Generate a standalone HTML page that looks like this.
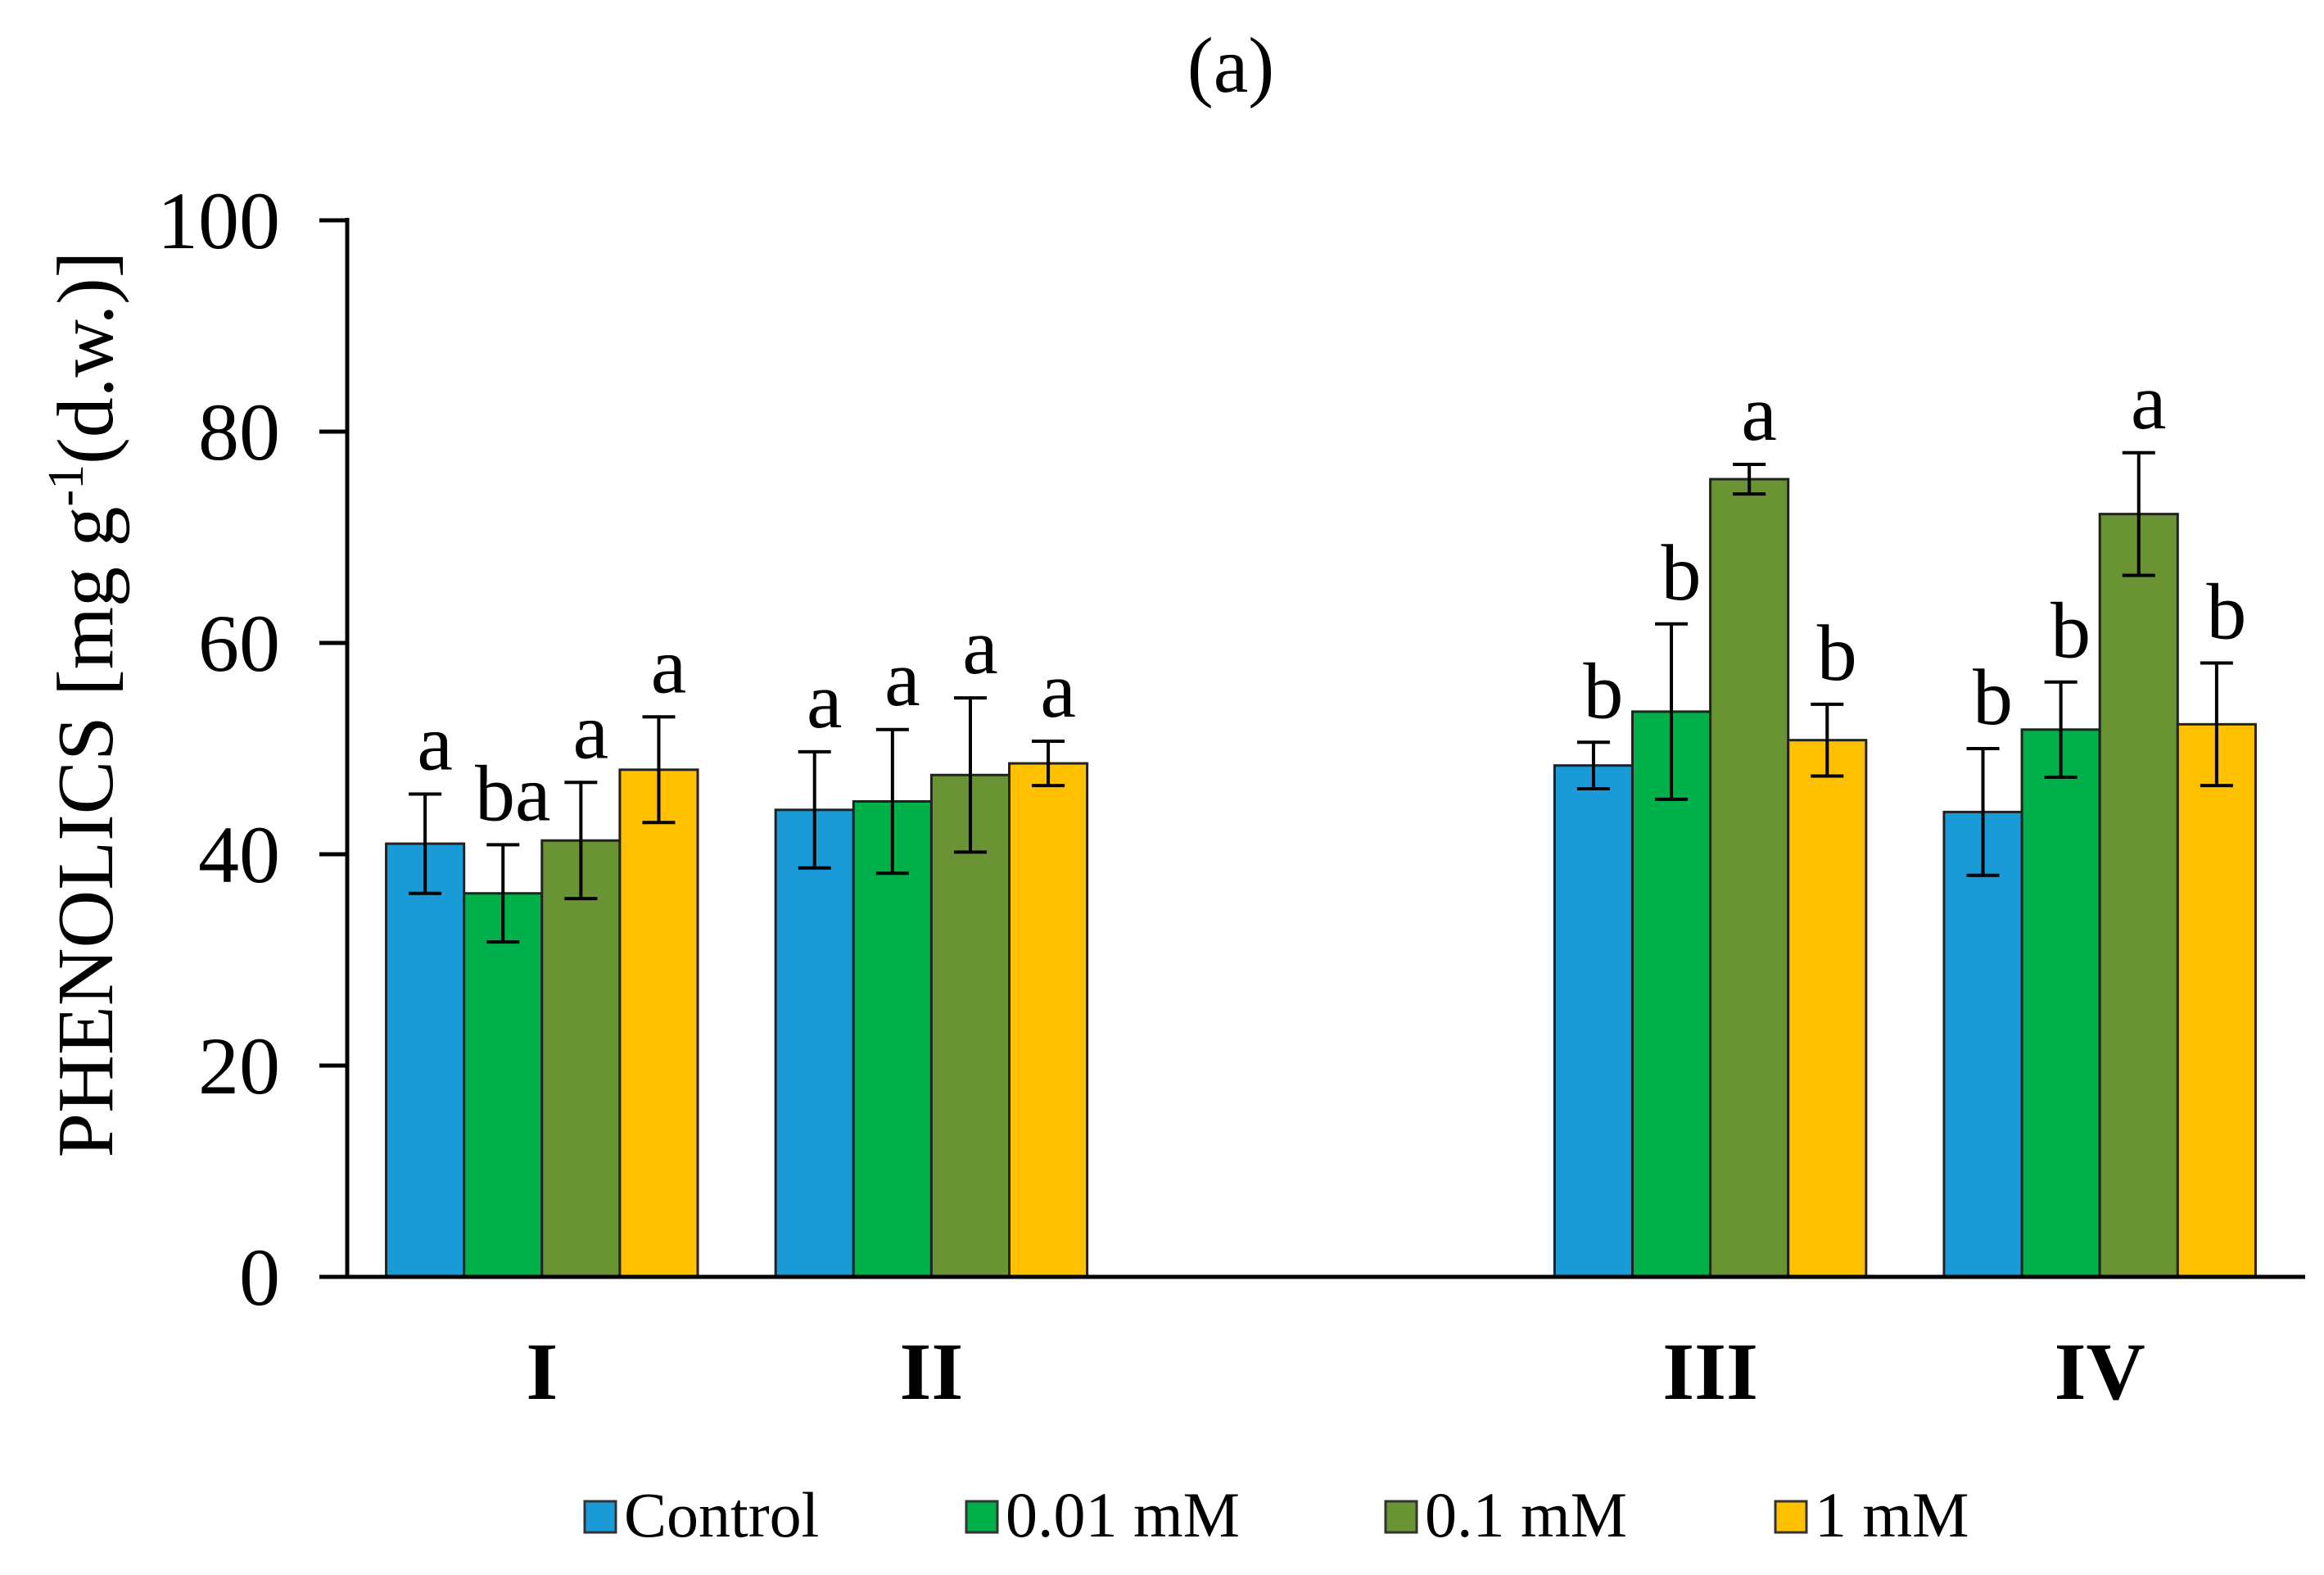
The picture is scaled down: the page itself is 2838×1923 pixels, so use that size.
<!DOCTYPE html>
<html><head><meta charset="utf-8"><style>
html,body{margin:0;padding:0;background:#fff}
svg{display:block}
text{font-family:"Liberation Serif",serif;fill:#000}
</style></head><body>
<svg id="chart" width="2838" height="1923" viewBox="0 0 2838 1923" xmlns="http://www.w3.org/2000/svg">
<text x="1503" y="112" font-size="96" text-anchor="middle">(a)</text>
<g id="yaxis"></g>
<g id="bars"></g>
<g id="xaxis"></g>
<text transform="translate(137,860) rotate(-90)" font-size="98" text-anchor="middle">PHENOLICS [mg g<tspan font-size="62" dy="-36">-1</tspan><tspan dy="36">(d.w.)]</tspan></text>
<g id="legend"></g>
</svg>
<script>
const categories = ["I","II","","III","IV"];
const seriesNames = ["Control","0.01 mM","0.1 mM","1 mM"];
const control = [41.0, 44.2, null, 48.4, 44.0];
const mM001 = [36.3, 45.0, null, 53.5, 51.8];
const mM01 = [41.3, 47.5, null, 75.5, 72.2];
const mM1 = [48.0, 48.6, null, 50.8, 52.3];
const errControl = [4.7, 5.5, null, 2.2, 6.0];
const errMM001 = [4.6, 6.8, null, 8.3, 4.5];
const errMM01 = [5.5, 7.3, null, 1.4, 5.8];
const errMM1 = [5.0, 2.1, null, 3.4, 5.8];
const lettersControl = ["a","a","","b","b"];
const lettersMM001 = ["ba","a","","b","b"];
const lettersMM01 = ["a","a","","a","a"];
const lettersMM1 = ["a","a","","b","b"];
const yTicks = [0,20,40,60,80,100];
const colors = ["#1a9bd7","#00b04a","#6a9433","#ffc000"];

const NS="http://www.w3.org/2000/svg";
const X0=424, X1=2802, Y0=1559, Y100=269;
const slot=(X1-X0)/categories.length;
const y=v=>Y0-(v/100)*(Y0-Y100);
const bw=slot*0.2;
const barX=(ci,si)=>X0+ci*slot+slot*0.1+si*bw;
function mk(tag,attrs,parent){const e=document.createElementNS(NS,tag);for(const k in attrs)e.setAttribute(k,attrs[k]);parent.appendChild(e);return e;}

const ya=document.getElementById('yaxis');
let l=mk('line',{x1:X0,y1:Y100-3,x2:X0,y2:Y0,stroke:'#000','stroke-width':5},ya);


yTicks.forEach(t=>{
  const tk=mk('line',{x1:X0-34,y1:y(t),x2:X0,y2:y(t),stroke:'#000','stroke-width':5},ya);
  
  
  const tx=mk('text',{x:X0-82,y:y(t)+34,'font-size':100,'text-anchor':'end'},ya);
  tx.textContent=t;
  
  
});

const series=[control,mM001,mM01,mM1];
const errs=[errControl,errMM001,errMM01,errMM1];
const letters=[lettersControl,lettersMM001,lettersMM01,lettersMM1];
const bg=document.getElementById('bars');
categories.forEach((c,ci)=>{
  series.forEach((s,si)=>{
    const v=s[ci]; if(v==null) return;
    const x=barX(ci,si);
    const r=mk('rect',{x:x,y:y(v),width:bw,height:Y0-y(v),fill:colors[si],stroke:'#222','stroke-width':3},bg);
    
    
    const e=errs[si][ci], cx=x+bw/2;
    const g=mk('g',{stroke:'#000','stroke-width':4},bg);
    
    
    mk('line',{x1:cx,y1:y(v+e),x2:cx,y2:y(v-e)},g);
    mk('line',{x1:cx-20,y1:y(v+e),x2:cx+20,y2:y(v+e)},g);
    mk('line',{x1:cx-20,y1:y(v-e),x2:cx+20,y2:y(v-e)},g);
    const t=mk('text',{x:cx+12,y:y(v+e)-30,'font-size':98,'text-anchor':'middle'},bg);
    t.textContent=letters[si][ci];
    
    
  });
});

const xa=document.getElementById('xaxis');
l=mk('line',{x1:X0-34,y1:Y0,x2:2815,y2:Y0,stroke:'#000','stroke-width':5},xa);


categories.forEach((c,ci)=>{
  if(!c) return;
  const t=mk('text',{x:X0+(ci+0.5)*slot,y:1708,'font-size':100,'font-weight':'bold','text-anchor':'middle'},xa);
  t.textContent=c;
  
  
});

const lg=document.getElementById('legend');
const lx=[714,1180,1692,2168];
seriesNames.forEach((n,i)=>{
  const g=mk('g',{},lg);
  
  
  mk('rect',{x:lx[i],y:1833,width:38,height:38,fill:colors[i],stroke:'#333','stroke-width':3},g);
  const t=mk('text',{x:lx[i]+48,y:1876,'font-size':78},g);
  t.textContent=n;
});
</script>
</body></html>
